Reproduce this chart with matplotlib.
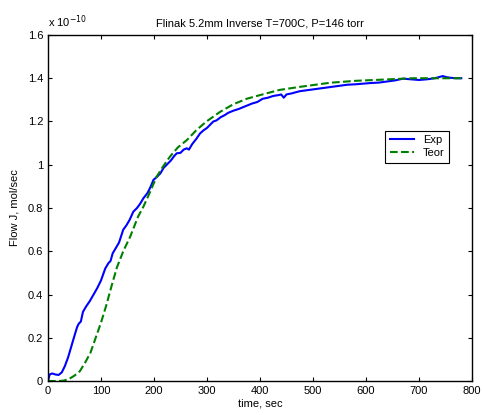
import numpy as np
import matplotlib.pyplot as plt
from matplotlib.ticker import FuncFormatter

plt.rcParams['font.family'] = ['Liberation Sans', 'DejaVu Sans']

# Экспериментальный поток (в единицах 1e-10 моль/с)
exp_t = [0, 3, 8, 14, 20, 26, 32, 38, 44, 50, 55, 58, 62, 66, 72, 79, 86, 93,
         100, 108, 114, 118, 122, 128, 134, 142, 148, 154, 161, 168, 174, 180,
         188, 194, 199, 206, 212, 218, 224, 232, 238, 243, 250, 256, 262, 266,
         272, 280, 287, 294, 300, 306, 312, 318, 326, 334, 340, 350, 360, 372,
         385, 395, 405, 415, 425, 435, 440, 445, 450, 460, 475, 490, 505, 520,
         535, 550, 565, 580, 595, 610, 625, 640, 655, 670, 685, 700, 715, 730,
         745, 752, 760, 770, 780]
exp_j = [0.0, 0.03, 0.035, 0.03, 0.028, 0.04, 0.07, 0.11, 0.16, 0.21, 0.25,
         0.265, 0.275, 0.32, 0.345, 0.37, 0.40, 0.43, 0.465, 0.52, 0.545,
         0.555, 0.59, 0.615, 0.64, 0.70, 0.72, 0.745, 0.783, 0.80, 0.82,
         0.845, 0.87, 0.90, 0.93, 0.945, 0.96, 0.985, 1.0, 1.02, 1.04, 1.053,
         1.055, 1.07, 1.076, 1.07, 1.095, 1.12, 1.145, 1.16, 1.17, 1.185,
         1.20, 1.205, 1.22, 1.23, 1.24, 1.25, 1.258, 1.27, 1.283, 1.29, 1.305,
         1.31, 1.318, 1.322, 1.325, 1.31, 1.325, 1.33, 1.34, 1.345, 1.35,
         1.355, 1.36, 1.365, 1.37, 1.372, 1.375, 1.378, 1.38, 1.385, 1.39,
         1.398, 1.395, 1.392, 1.395, 1.40, 1.41, 1.405, 1.402, 1.40, 1.40]

# Теоретическая кривая
teor_t = [0, 20, 30, 40, 50, 60, 70, 80, 90, 100, 110, 120, 130, 142, 155,
          170, 180, 190, 205, 218, 230, 245, 262, 280, 299, 325, 350, 375,
          400, 437, 475, 532, 580, 626, 689, 740, 780]
teor_j = [0, 0.0, 0.002, 0.01, 0.025, 0.045, 0.085, 0.13, 0.20, 0.27, 0.35,
          0.44, 0.525, 0.60, 0.667, 0.76, 0.806, 0.86, 0.945, 0.995, 1.037,
          1.08, 1.114, 1.16, 1.20, 1.245, 1.28, 1.305, 1.322, 1.346, 1.36,
          1.379, 1.388, 1.393, 1.40, 1.40, 1.40]

fig = plt.figure(figsize=(4.83, 4.15), dpi=100)
ax = fig.add_axes([0.0994, 0.0819, 0.8776, 0.8338])

ax.plot(exp_t, exp_j, '-', color='#0000ff', lw=1.5, label='Exp')
ax.plot(teor_t, teor_j, '--', color='#008000', lw=1.5, label='Teor')

ax.set_xlim(0, 800)
ax.set_ylim(0, 1.6)
ax.set_xticks(np.arange(0, 801, 100))
ax.set_yticks(np.arange(0, 1.61, 0.2))
ax.yaxis.set_major_formatter(FuncFormatter(lambda v, p: '%g' % round(v, 2)))
ax.tick_params(direction='in', top=True, right=True, labelsize=8, length=3)
for s in ax.spines.values():
    s.set_linewidth(1.0)

ax.text(0, 1.015, r'x 10$^{-10}$', transform=ax.transAxes, fontsize=8,
        ha='left', va='bottom')
ax.set_title('Flinak 5.2mm Inverse T=700C, P=146 torr', fontsize=8, pad=6)
ax.set_xlabel('time, sec', fontsize=8, labelpad=2)
ax.set_ylabel('Flow J, mol/sec', fontsize=8, labelpad=6)

leg = ax.legend(loc='upper left', bbox_to_anchor=(0.783, 0.74), fontsize=8,
                fancybox=False, framealpha=1, edgecolor='black',
                handlelength=2.2, borderpad=0.4, labelspacing=0.3)
leg.get_frame().set_linewidth(0.8)

fig.savefig('out.png', dpi=100)
